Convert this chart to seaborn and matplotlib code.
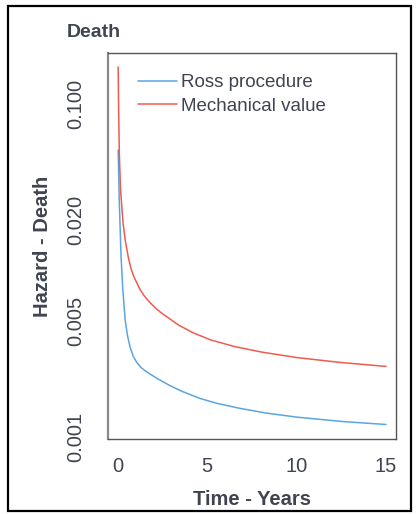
import matplotlib
matplotlib.use("Agg")
import matplotlib.pyplot as plt
from matplotlib.patches import Rectangle
import seaborn as sns
import pandas as pd

# ---- data ----
ross_t = [0.028, 0.089, 0.19, 0.29, 0.42, 0.55, 0.70, 0.87, 1.05, 1.3, 1.55, 1.8, 2.3,
          2.9, 3.6, 4.6, 5.5, 6.8, 8.3, 10.0, 12.5, 15.0]
ross_h = [0.0529, 0.0265, 0.01206, 0.00764, 0.00504, 0.004064, 0.003443, 0.003061,
          0.002825, 0.002618, 0.002495, 0.002393, 0.002218, 0.002042, 0.001879,
          0.001706, 0.001598, 0.001489, 0.001393, 0.001317, 0.001241, 0.001189]
mech_t = [0.028, 0.050, 0.095, 0.162, 0.302, 0.43, 0.592, 0.75, 0.90, 1.061, 1.25, 1.5,
          1.788, 2.1, 2.4, 2.709, 3.4, 4.2, 5.2, 6.5, 8.0, 10.0, 12.5, 15.0]
mech_h = [0.1668, 0.100, 0.04941, 0.03045, 0.01929, 0.01504, 0.01206, 0.01022,
          0.009217, 0.008470, 0.007700, 0.007009, 0.006450, 0.005970, 0.005610,
          0.005315, 0.004707, 0.004236, 0.003830, 0.003501, 0.003244, 0.003002,
          0.002802, 0.002655]
series = ["Ross procedure", "Mechanical value"]
y_ticks = [0.001, 0.002, 0.005, 0.01, 0.02, 0.05, 0.1]
y_ticklabels = ["0.001", "", "0.005", "", "0.020", "", "0.100"]
x_ticks = [0, 5, 10, 15]

df = pd.concat([
    pd.DataFrame({"t": ross_t, "h": ross_h, "s": series[0]}),
    pd.DataFrame({"t": mech_t, "h": mech_h, "s": series[1]}),
])

sns.set_style("white")
plt.rcParams["font.family"] = ["Liberation Sans", "DejaVu Sans"]
txt = "#3f4450"

W, H = 418, 514
fig = plt.figure(figsize=(W / 100, H / 100), dpi=100)
ax = fig.add_axes([108 / W, 1 - 439 / H, (396 - 108) / W, (439 - 53) / H])

palette = {series[0]: "#5aa5e2", series[1]: "#f05a50"}
sns.lineplot(data=df, x="t", y="h", hue="s", hue_order=series, palette=palette,
             estimator=None, sort=True, linewidth=1.1, ax=ax, legend=False)

ax.set_yscale("log")
ax.set_xlim(-0.54, 15.56)
ax.set_ylim(0.000973, 0.2025)
ax.set_yticks(y_ticks)
ax.set_yticklabels(y_ticklabels)
ax.minorticks_off()
ax.set_xticks(x_ticks)
ax.set_xticklabels([str(v) for v in x_ticks])

ax.tick_params(axis="both", which="major", direction="out", length=9.4, width=1.0,
               color="#444444", labelcolor=txt, labelsize=14.5)
ax.tick_params(axis="x", pad=3.5)
ax.tick_params(axis="y", pad=7, labelrotation=90)
for lab in ax.get_yticklabels():
    lab.set_va("center")

for side in ["top", "right", "bottom"]:
    ax.spines[side].set_color("#555555")
    ax.spines[side].set_linewidth(1.0)
ax.spines["left"].set_color("#8a8a8a")
ax.spines["left"].set_linewidth(1.6)

ax.set_xlabel("Time - Years", fontsize=14.5, fontweight="bold", color=txt, labelpad=10)
ax.set_ylabel("Hazard - Death", fontsize=14.5, fontweight="bold", color=txt, labelpad=10)

handles = ax.get_lines()[:2]
leg = ax.legend(handles, series, loc="upper left", bbox_to_anchor=(138 / W, 1 - 74 / H),
                bbox_transform=fig.transFigure, frameon=False, fontsize=13.5,
                handlelength=2.06, handletextpad=0.22, labelspacing=0.36,
                borderpad=0, borderaxespad=0)
for t in leg.get_texts():
    t.set_color(txt)

fig.text(67 / W, 1 - 36.7 / H, "Death", fontsize=14, fontweight="bold", color=txt,
         ha="left", va="baseline")

fig.patches.append(Rectangle((8 / W, 1 - 511 / H), (411 - 8) / W, (511 - 6) / H,
                             transform=fig.transFigure, fill=False, edgecolor="black",
                             linewidth=1.6, zorder=10))

fig.savefig("out.png", dpi=100)
